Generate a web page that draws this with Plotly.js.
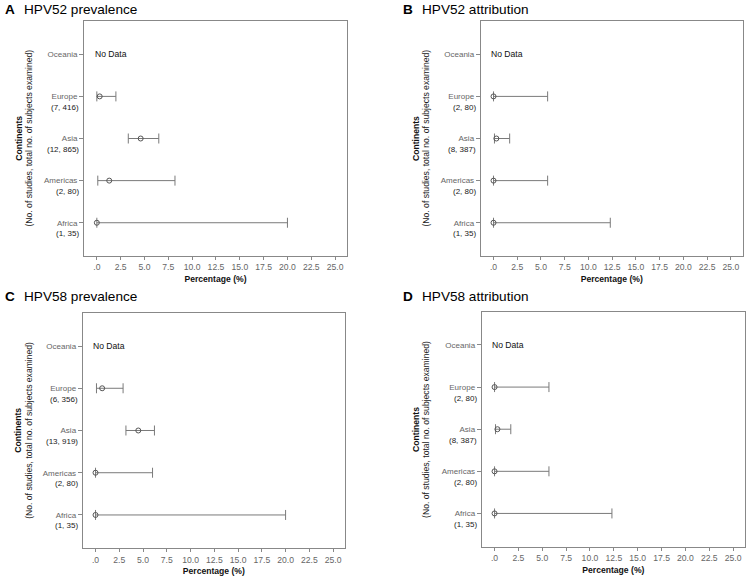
<!DOCTYPE html>
<html>
<head>
<meta charset="utf-8">
<script src="https://cdn.plot.ly/plotly-3.0.1.min.js"></script>
<style>html,body{margin:0;padding:0;background:#fff;}#chart{width:749px;height:577px;}</style>
</head>
<body>
<div id="chart"></div>
<script>
// ---- data ----
var continents = ['Africa', 'Americas', 'Asia', 'Europe', 'Oceania'];
var xTickVals = [0, 2.5, 5, 7.5, 10, 12.5, 15, 17.5, 20, 22.5, 25];
var xTickText = ['.0', '2.5', '5.0', '7.5', '10.0', '12.5', '15.0', '17.5', '20.0', '22.5', '25.0'];

var panelLetters = ['A', 'B', 'C', 'D'];
var panelTitles = ['HPV52 prevalence', 'HPV52 attribution', 'HPV58 prevalence', 'HPV58 attribution'];
var xAxisTitle = 'Percentage (%)';
var yAxisTitle1 = 'Continents';
var yAxisTitle2 = '(No. of studies, total no. of subjects examined)';

var hpv52PrevEst  = [0, 1.3, 4.6, 0.3, null];
var hpv52PrevLow  = [0, 0.1, 3.3, 0.0, null];
var hpv52PrevHigh = [20.0, 8.2, 6.5, 2.0, null];
var hpv52PrevCounts = ['(1, 35)', '(2, 80)', '(12, 865)', '(7, 416)', ''];

var hpv52AttrEst  = [0, 0, 0.3, 0, null];
var hpv52AttrLow  = [0, 0, 0.1, 0, null];
var hpv52AttrHigh = [12.3, 5.7, 1.7, 5.7, null];
var hpv52AttrCounts = ['(1, 35)', '(2, 80)', '(8, 387)', '(2, 80)', ''];

var hpv58PrevEst  = [0, 0, 4.5, 0.7, null];
var hpv58PrevLow  = [0, 0, 3.2, 0.1, null];
var hpv58PrevHigh = [20.0, 6.0, 6.2, 2.9, null];
var hpv58PrevCounts = ['(1, 35)', '(2, 80)', '(13, 919)', '(6, 356)', ''];

var hpv58AttrEst  = [0, 0, 0.3, 0, null];
var hpv58AttrLow  = [0, 0, 0.1, 0, null];
var hpv58AttrHigh = [12.3, 5.7, 1.7, 5.7, null];
var hpv58AttrCounts = ['(1, 35)', '(2, 80)', '(8, 387)', '(2, 80)', ''];

var noDataLabel = 'No Data';

// ---- layout helpers ----
var panels = [
  {est: hpv52PrevEst, low: hpv52PrevLow, high: hpv52PrevHigh, counts: hpv52PrevCounts},
  {est: hpv52AttrEst, low: hpv52AttrLow, high: hpv52AttrHigh, counts: hpv52AttrCounts},
  {est: hpv58PrevEst, low: hpv58PrevLow, high: hpv58PrevHigh, counts: hpv58PrevCounts},
  {est: hpv58AttrEst, low: hpv58AttrLow, high: hpv58AttrHigh, counts: hpv58AttrCounts}
];
var xDomains = [[0.1121, 0.4633], [0.6418, 0.9916], [0.1104, 0.4606], [0.6431, 0.9947]];
var yDomains = [[0.5563, 0.9636], [0.5563, 0.9636], [0.0497, 0.4581], [0.0525, 0.4598]];
var titlePos = [[3, 13], [401, 13], [3, 300], [401, 300]];     // px
var yTitleX = [[18.3, 29], [415.5, 426], [18.3, 29.3], [416.7, 426.7]]; // px centres

var FONT = 'Liberation Sans, Arial, sans-serif';
var W = 749, H = 577;
var traces = [];
var annotations = [];
var layout = {
  width: W, height: H,
  margin: {l: 0, r: 0, t: 0, b: 0},
  paper_bgcolor: '#fff', plot_bgcolor: '#fff',
  showlegend: false,
  font: {family: FONT, size: 8, color: '#555'}
};

panels.forEach(function (p, i) {
  var n = i + 1;
  var xa = n === 1 ? 'x' : 'x' + n;
  var ya = n === 1 ? 'y' : 'y' + n;
  var plus = p.high.map(function (h, k) { return h === null ? null : h - p.est[k]; });
  var minus = p.low.map(function (l, k) { return l === null ? null : p.est[k] - l; });
  traces.push({
    type: 'scatter', mode: 'markers',
    x: p.est, y: continents, xaxis: xa, yaxis: ya,
    marker: {symbol: 'circle-open', size: 5, color: '#555', line: {width: 1, color: '#555'}},
    error_x: {type: 'data', symmetric: false, array: plus, arrayminus: minus,
              color: '#7a7a7a', thickness: 1, width: 5},
    hoverinfo: 'skip'
  });
  layout['xaxis' + (n === 1 ? '' : n)] = {
    domain: xDomains[i], anchor: ya, range: [-1.35, 26.25],
    tickmode: 'array', tickvals: xTickVals, ticktext: xTickText,
    ticks: 'outside', ticklen: 3, tickcolor: '#888', tickwidth: 1,
    showline: true, linecolor: '#888', linewidth: 1, mirror: true,
    showgrid: false, zeroline: false,
    tickfont: {family: 'Liberation Sans Narrow, ' + FONT, size: 8.6, color: '#666'},
    title: {text: '<b>' + xAxisTitle + '</b>', font: {family: FONT, size: 8.6, color: '#111'}, standoff: 4}
  };
  layout['yaxis' + (n === 1 ? '' : n)] = {
    domain: yDomains[i], anchor: xa, type: 'category',
    categoryorder: 'array', categoryarray: continents, range: [-0.79, 4.79],
    ticks: 'outside', ticklen: 4, tickcolor: '#888', tickwidth: 1,
    showline: true, linecolor: '#888', linewidth: 1, mirror: true,
    showgrid: false, zeroline: false,
    tickfont: {family: FONT, size: 8, color: '#666'}
  };
  var yMid = (yDomains[i][0] + yDomains[i][1]) / 2;
  annotations.push({
    xref: 'paper', yref: 'paper', x: yTitleX[i][0] / W, y: yMid,
    xanchor: 'center', yanchor: 'middle', textangle: -90,
    text: '<b>' + yAxisTitle1 + '</b>', showarrow: false,
    font: {family: FONT, size: 8.6, color: '#111'}
  });
  annotations.push({
    xref: 'paper', yref: 'paper', x: yTitleX[i][1] / W, y: yMid,
    xanchor: 'center', yanchor: 'middle', textangle: -90,
    text: yAxisTitle2, showarrow: false,
    font: {family: FONT, size: 8.6, color: '#222'}
  });
  // count labels under category names
  p.counts.forEach(function (c, k) {
    if (!c) return;
    annotations.push({
      xref: xa + ' domain', yref: ya, x: 0, y: continents[k],
      xanchor: 'right', yanchor: 'middle', xshift: -3, yshift: -11,
      text: c, showarrow: false, font: {family: FONT, size: 8, color: '#1a1a1a'}
    });
  });
  // No Data label for rows without estimates
  p.est.forEach(function (e, k) {
    if (e !== null) return;
    annotations.push({
      xref: xa, yref: ya, x: -0.45, y: continents[k],
      xanchor: 'left', yanchor: 'middle',
      text: noDataLabel, showarrow: false, font: {family: FONT, size: 8.6, color: '#111'}
    });
  });
  // panel titles
  annotations.push({
    xref: 'paper', yref: 'paper', x: titlePos[i][0] / W, y: 1 - titlePos[i][1] / H,
    xanchor: 'left', yanchor: 'middle', yshift: 4,
    text: '<b>' + panelLetters[i] + '</b>', showarrow: false,
    font: {family: FONT, size: 13.6, color: '#000'}
  });
  annotations.push({
    xref: 'paper', yref: 'paper', x: (titlePos[i][0] + 18.5) / W, y: 1 - titlePos[i][1] / H,
    xanchor: 'left', yanchor: 'middle', yshift: 4,
    text: panelTitles[i], showarrow: false,
    font: {family: FONT, size: 13.6, color: '#000'}
  });
});
layout.annotations = annotations;

Plotly.newPlot('chart', traces, layout, {staticPlot: true, displayModeBar: false});
</script>
</body>
</html>
